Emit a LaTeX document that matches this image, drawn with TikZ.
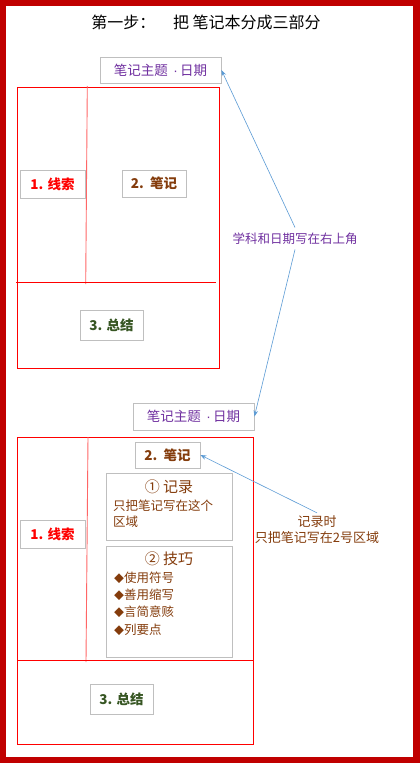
\documentclass[tikz,border=0pt]{standalone}
\usepackage{fontspec}
\setmainfont{Noto Sans CJK SC}
\newfontfamily\latinf{Liberation Sans}
\usetikzlibrary{arrows.meta}
\definecolor{frame}{HTML}{C00000}
\definecolor{boxgray}{HTML}{BFBFBF}
\definecolor{purp}{HTML}{7030A0}
\definecolor{brn}{HTML}{843C0C}
\definecolor{grn}{HTML}{375623}
\definecolor{arrblue}{HTML}{5B9BD5}
\definecolor{nred}{HTML}{FF0000}
\tikzset{
  tbox/.style={draw=boxgray, line width=0.8pt, fill=white, inner sep=0pt},
  nline/.style={draw=nred, line width=0.9pt},
  arr/.style={draw=arrblue, line width=0.6pt, -{Stealth[length=6pt,width=4.5pt]}},
  fs/.style={font=\fontsize{#1}{#1}\selectfont},
  fsb/.style={font=\fontsize{#1}{#1}\selectfont\bfseries}
}
\newcommand{\subjdate}{笔记主题 {\latinf\,·\,}日期}
\begin{document}
\begin{tikzpicture}[x=1pt,y=-1pt]
\useasboundingbox (0,0) rectangle (420,763);
\fill[white] (0,0) rectangle (420,763);
\draw[frame, line width=6.5pt] (3,2.5) rectangle (416.5,760);

% title
\node[fs=16, text=black] (title) at (206,22) {第一步：\hspace{1.1em}把 笔记本分成三部分};

% ---------- upper notebook ----------
\node[tbox, minimum width=121pt, minimum height=26pt, text=purp, fs=13.5] (top1) at (160.5,70) {\subjdate};
\draw[nline] (17,87) rectangle (219,368);
\coordinate (v1a) at (87.3,86);
\coordinate (v1b) at (85.7,284);
\coordinate (h1a) at (16,282.5);
\coordinate (h1b) at (216,282.5);
\draw[draw=nred!60, line width=0.9pt] (v1a) -- (v1b);
\draw[nline] (h1a) -- (h1b);
\node[tbox, minimum width=65pt, minimum height=28pt, text=nred, fsb=13.5] (cue1) at (52.5,184) {1. 线索};
\node[tbox, minimum width=64pt, minimum height=27pt, text=brn, fsb=13.5] (note1) at (154,183.5) {2.\, 笔记};
\node[tbox, minimum width=63pt, minimum height=30pt, text=grn, fsb=13.5] (sum1) at (111.5,325) {3. 总结};

% middle label
\node[text=purp, fs=12.5, inner sep=5pt] (lab1) at (295,238.5) {学科和日期写在右上角};

% ---------- lower notebook ----------
\node[tbox, minimum width=121pt, minimum height=27pt, text=purp, fs=13.5] (top2) at (193.5,416.5) {\subjdate};
\draw[nline] (17,437) rectangle (253,744);
\coordinate (v2a) at (88,437);
\coordinate (v2b) at (86,662);
\coordinate (h2a) at (17,660);
\coordinate (h2b) at (253,660);
\draw[draw=nred!60, line width=0.9pt] (v2a) -- (v2b);
\draw[nline] (h2a) -- (h2b);
\node[tbox, minimum width=65pt, minimum height=28pt, text=nred, fsb=13.5] (cue2) at (52.5,534) {1. 线索};
\node[tbox, minimum width=65pt, minimum height=26pt, text=brn, fsb=13.5] (note2) at (167.5,455) {2.\, 笔记};
\node[tbox, minimum width=126pt, minimum height=67pt] (rec) at (169,506.5) {};
\node[tbox, minimum width=126pt, minimum height=111pt] (tech) at (169,601.5) {};
\node[text=brn, fs=15, inner sep=0pt] (rect) at (169,487) {① 记录};
\node[text=brn, anchor=north west, inner sep=0pt, align=left,
      font=\fontsize{12.5}{16}\selectfont] (recb) at (113,499.5) {只把笔记写在这个\\区域};
\node[text=brn, fs=15, inner sep=0pt] (techt) at (169,559) {② 技巧};
\node[text=brn, anchor=north west, inner sep=0pt, align=left,
      font=\fontsize{12.5}{17.3}\selectfont] (techb) at (114,571.5) {{\fontsize{10}{10}\selectfont ◆}使用符号\\{\fontsize{10}{10}\selectfont ◆}善用缩写\\{\fontsize{10}{10}\selectfont ◆}言简意赅\\{\fontsize{10}{10}\selectfont ◆}列要点};
\node[tbox, minimum width=63pt, minimum height=30pt, text=grn, fsb=13.5] (sum2) at (121.5,699) {3. 总结};

% right label
\node[text=brn, align=center, inner sep=3pt, font=\fontsize{13}{16}\selectfont] (lab2) at (317,530) {记录时\\只把笔记写在2号区域};

% arrows
\draw[arr] (lab1.north) -- (top1.east);
\draw[arr] (lab1.south) -- (top2.east);
\draw[arr] (lab2.north) -- (note2.east);
\end{tikzpicture}
\end{document}
